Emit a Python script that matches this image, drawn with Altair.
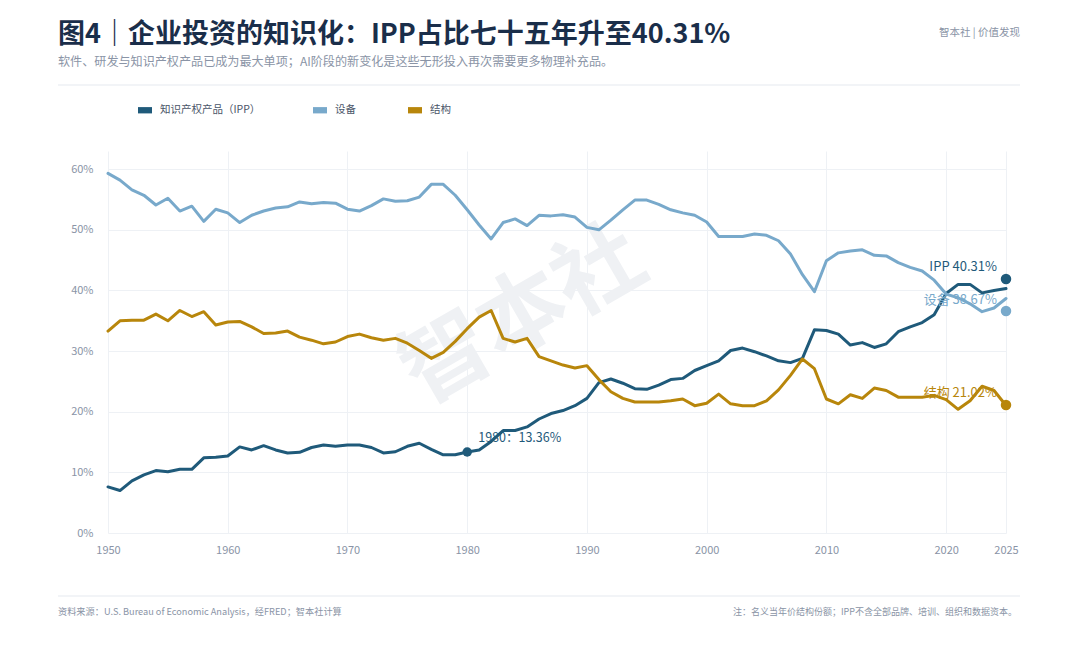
import altair as alt
import pandas as pd

FONT = "Noto Sans CJK SC"

# ---------------- data ----------------
years = list(range(1950, 2026))

ipp = [7.6, 7.0, 8.6, 9.6, 10.3, 10.1, 10.5, 10.5, 12.4, 12.5,
       12.7, 14.2, 13.7, 14.4, 13.7, 13.2, 13.3, 14.1, 14.5, 14.3,
       14.5, 14.5, 14.1, 13.2, 13.4, 14.3, 14.8, 13.8, 12.9, 12.9,
       13.36, 13.7, 15.1, 16.9, 16.9, 17.5, 18.8, 19.7, 20.2, 21.0,
       22.2, 24.8, 25.4, 24.7, 23.8, 23.7, 24.4, 25.3, 25.5, 26.8,
       27.6, 28.4, 30.1, 30.5, 29.9, 29.2, 28.4, 28.1, 28.8, 33.5,
       33.4, 32.8, 31.0, 31.4, 30.6, 31.2, 33.2, 34.0, 34.7, 36.0,
       39.5, 41.0, 41.0, 39.6, 40.0, 40.31]

equip = [59.3, 58.2, 56.6, 55.7, 54.1, 55.2, 53.1, 53.9, 51.4, 53.4,
         52.8, 51.2, 52.4, 53.1, 53.6, 53.8, 54.6, 54.3, 54.5, 54.4,
         53.4, 53.1, 54.0, 55.1, 54.7, 54.8, 55.4, 57.5, 57.5, 55.7,
         53.3, 50.8, 48.5, 51.2, 51.8, 50.7, 52.4, 52.3, 52.5, 52.1,
         50.4, 50.0, 51.6, 53.3, 54.9, 54.9, 54.2, 53.3, 52.8, 52.4,
         51.3, 48.9, 48.9, 48.9, 49.3, 49.1, 48.2, 46.0, 42.6, 39.8,
         44.9, 46.2, 46.5, 46.7, 45.8, 45.7, 44.6, 43.8, 43.2, 41.7,
         39.4, 38.8, 37.8, 36.5, 37.1, 38.67]

struct = [33.3, 35.0, 35.1, 35.1, 36.1, 35.0, 36.7, 35.7, 36.5, 34.3,
          34.8, 34.9, 34.0, 32.9, 33.0, 33.3, 32.3, 31.8, 31.2, 31.5,
          32.4, 32.8, 32.2, 31.8, 32.1, 31.3, 30.1, 28.8, 29.8, 31.6,
          33.7, 35.6, 36.7, 32.1, 31.5, 32.1, 29.1, 28.4, 27.7, 27.2,
          27.6, 25.3, 23.3, 22.2, 21.6, 21.6, 21.6, 21.8, 22.1, 21.0,
          21.4, 22.9, 21.3, 21.0, 21.0, 21.8, 23.6, 26.0, 28.7, 27.1,
          22.1, 21.3, 22.8, 22.2, 23.9, 23.5, 22.4, 22.4, 22.4, 22.7,
          22.0, 20.4, 21.8, 24.2, 23.5, 21.02]

series_names = ["知识产权产品（IPP）", "设备", "结构"]
series_colors = ["#1f5a7a", "#78a9cb", "#b8860b"]

x_ticks = [1950, 1960, 1970, 1980, 1990, 2000, 2010, 2020, 2025]
y_ticks = [0, 10, 20, 30, 40, 50, 60]

end_labels = ["IPP 40.31%", "设备 38.67%", "结构 21.02%"]
end_label_dy = [-22, 1, -13]
end_marker_values = [41.9, 36.6, 21.1]   # dots at the right edge, as drawn
highlight_year = 1980
highlight_label = "1980：13.36%"

title_text = "图4｜企业投资的知识化：IPP占比七十五年升至40.31%"
subtitle_text = "软件、研发与知识产权产品已成为最大单项；AI阶段的新变化是这些无形投入再次需要更多物理补充品。"
brand_text = "智本社 | 价值发现"
source_text = "资料来源：U.S. Bureau of Economic Analysis，经FRED；智本社计算"
note_text = "注：名义当年价结构份额；IPP不含全部品牌、培训、组织和数据资本。"
watermark_text = "智本社"

# ---------------- tables ----------------
rows = []
for name, vals in zip(series_names, [ipp, equip, struct]):
    for yr, v in zip(years, vals):
        rows.append({"year": yr, "share": v, "series": name})
df = pd.DataFrame(rows)

ends = pd.DataFrame({
    "year": [years[-1]] * 3,
    "share": [ipp[-1], equip[-1], struct[-1]],
    "dot": end_marker_values,
    "series": series_names,
    "label": end_labels,
})
hl = pd.DataFrame({"year": [highlight_year],
                   "share": [ipp[years.index(highlight_year)]],
                   "label": [highlight_label]})

GRAY = "#8a94a6"
GRID = "#eef1f5"

xenc = alt.X("year:Q",
             scale=alt.Scale(domain=[1950, 2025], nice=False, zero=False),
             axis=alt.Axis(values=x_ticks, format="d", title=None, ticks=False,
                           tickSize=0, domain=False, grid=True, gridColor=GRID,
                           labelColor=GRAY, labelFontSize=11, labelPadding=11,
                           labelFont=FONT, labelFlush=False))
yenc = alt.Y("share:Q",
             scale=alt.Scale(domain=[0, 63], nice=False, zero=True),
             axis=alt.Axis(values=y_ticks, labelExpr="datum.value + '%'",
                           title=None, ticks=False, tickSize=0, domain=False,
                           grid=True, gridColor=GRID, labelColor=GRAY,
                           labelFontSize=11, labelPadding=15, labelFont=FONT))
cscale = alt.Scale(domain=series_names, range=series_colors)

one = pd.DataFrame({"k": [0]})

watermark = alt.Chart(pd.DataFrame({"t": [watermark_text]})).mark_text(
    font=FONT, fontSize=88, fontWeight="bold", color="#eff1f4", angle=330,
    align="center", baseline="middle"
).encode(x=alt.value(416), y=alt.value(166), text="t:N")

# one line layer per series (constant colour, so only the dots own the colour legend)
line_layers = []
for i, name in enumerate(series_names):
    enc_x = xenc if i == 0 else alt.X("year:Q")
    enc_y = yenc if i == 0 else alt.Y("share:Q")
    line_layers.append(
        alt.Chart(df).transform_filter(alt.datum.series == name).mark_line(
            strokeWidth=3, strokeJoin="round", strokeCap="round",
            color=series_colors[i]
        ).encode(x=enc_x, y=enc_y)
    )

end_dots = alt.Chart(ends).mark_circle(size=110, opacity=1).encode(
    x=alt.X("year:Q"), y=alt.Y("dot:Q"),
    color=alt.Color("series:N", scale=cscale,
                    legend=alt.Legend(orient="none", legendX=30, legendY=-48,
                                      direction="horizontal", title=None,
                                      symbolType="M-1,-0.45H1V0.45H-1Z",
                                      symbolSize=196, symbolStrokeWidth=0,
                                      symbolOpacity=1, labelFont=FONT,
                                      labelFontSize=10.5, labelColor="#4a5568",
                                      labelOffset=8, columnPadding=52)),
)

end_texts = []
for i, name in enumerate(series_names):
    end_texts.append(
        alt.Chart(ends).transform_filter(alt.datum.series == name).mark_text(
            font=FONT, fontSize=13, align="right", baseline="middle", dx=-9,
            dy=end_label_dy[i], color=series_colors[i]
        ).encode(x=alt.X("year:Q"), y=alt.Y("share:Q"), text="label:N")
    )

hl_dot = alt.Chart(hl).mark_circle(size=90, opacity=1, color=series_colors[0]).encode(
    x=alt.X("year:Q"), y=alt.Y("share:Q"))
hl_text = alt.Chart(hl).mark_text(
    font=FONT, fontSize=12.5, align="left", baseline="middle", dx=11, dy=-14,
    color=series_colors[0]
).encode(x=alt.X("year:Q"), y=alt.Y("share:Q"), text="label:N")


def fixed_text(txt, x, y, **kw):
    return alt.Chart(pd.DataFrame({"t": [txt]})).mark_text(
        font=FONT, baseline="middle", **kw
    ).encode(x=alt.value(x), y=alt.value(y), text="t:N")


title = fixed_text(title_text, -50, -116, align="left", fontSize=27,
                   fontWeight="bold", color="#1a2e4a")
subtitle = fixed_text(subtitle_text, -50, -89, align="left", fontSize=12.1, color=GRAY)
brand = fixed_text(brand_text, 912, -118, align="right", fontSize=10.5, color=GRAY)
source = fixed_text(source_text, -50, 461, align="left", fontSize=9.2, color=GRAY)
note = fixed_text(note_text, 909, 461, align="right", fontSize=9, color=GRAY)

top_rule = alt.Chart(one).mark_rule(color=GRID, strokeWidth=1.5).encode(
    x=alt.value(-50), x2=alt.value(912), y=alt.value(-66))
bottom_rule = alt.Chart(one).mark_rule(color=GRID, strokeWidth=1.5).encode(
    x=alt.value(-50), x2=alt.value(912), y=alt.value(445))

chart = alt.layer(
    watermark, *line_layers, hl_dot, hl_text, end_dots, *end_texts,
    title, subtitle, brand, top_rule, bottom_rule, source, note
).properties(
    width=898, height=382,
    autosize=alt.AutoSizeParams(type="none"),
    padding={"left": 100, "top": 143, "right": 60, "bottom": 100},
    background="white",
).configure_view(stroke=None)

chart.save("out.html", embed_options={"renderer": "svg", "actions": False})
